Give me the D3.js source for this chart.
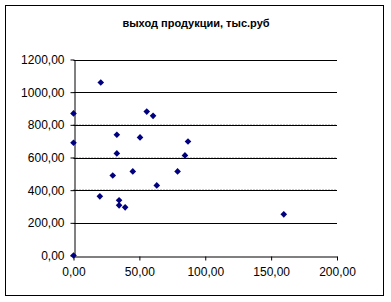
<html lang="ru">
<head>
    <meta charset="utf-8">
    <title>выход продукции</title>
    <style>
        body {
            margin: 0;
            background: white;
        }

        svg text {
            font-family: "Liberation Sans", Arial, sans-serif;
        }
    </style>
</head>
<body>
<svg id="chart" width="391" height="302"></svg>
<script src="https://d3js.org/d3.v7.min.js"></script>
<script>
    // values
    const xValues = [0, 0, 0, 20.7, 20, 29.8, 32.9, 32.9, 34.6, 34.6, 39.2, 45, 50.5, 55.6, 60.4, 63.2, 79, 84.6, 86.9, 159.6];
    const yValues = [0, 690, 870, 1059, 362, 490, 739, 625, 338, 307, 295, 515, 723, 881, 855, 429, 515, 613, 698, 252];
    const xTicks = [0, 50, 100, 150, 200];
    const yTicks = [0, 200, 400, 600, 800, 1000, 1200];
    const dottedLines = [400, 600, 800];
    const title = "выход продукции, тыс.руб";

    const svg = d3.select("#chart");
    const fmt = d => d3.format(".2f")(d).replace(".", ",");

    const x = d3.scaleLinear().domain([0, 200]).range([73.5, 337]);
    const y = d3.scaleLinear().domain([0, 1200]).range([255.5, 59.5]);

    svg.append("rect")
        .attr("x", 5.5).attr("y", 5.5)
        .attr("width", 378).attr("height", 290)
        .attr("fill", "white").attr("stroke", "black");

    svg.append("text")
        .attr("x", 196).attr("y", 27)
        .attr("text-anchor", "middle")
        .style("font-size", "11px").style("font-weight", "bold")
        .text(title);

    // gridlines (some have a faint dotted row above, like the screenshot)
    svg.append("g").selectAll("line")
        .data(dottedLines)
        .join("line")
        .attr("x1", x(0)).attr("x2", x(200))
        .attr("y1", d => Math.round(y(d)) - 0.5).attr("y2", d => Math.round(y(d)) - 0.5)
        .attr("stroke", "#999")
        .attr("stroke-dasharray", "1,2");

    svg.append("g").selectAll("line")
        .data(yTicks.filter(d => d > 0))
        .join("line")
        .attr("x1", x(0)).attr("x2", x(200))
        .attr("y1", d => Math.round(y(d)) + 0.5).attr("y2", d => Math.round(y(d)) + 0.5)
        .attr("stroke", "black");

    const xAxis = svg.append("g")
        .attr("transform", `translate(0,${Math.round(y(0)) + 0.5})`)
        .call(d3.axisBottom(x).tickValues(xTicks).tickFormat(fmt).tickSizeInner(4).tickSizeOuter(0).tickPadding(7));

    const yAxis = svg.append("g")
        .attr("transform", `translate(${Math.round(x(0)) + 0.5},0)`)
        .call(d3.axisLeft(y).tickValues(yTicks).tickFormat(fmt).tickSizeInner(4).tickSizeOuter(0).tickPadding(6));

    [xAxis, yAxis].forEach(a => {
        a.select(".domain").attr("stroke", "black");
        a.selectAll("line").attr("stroke", "black");
        a.selectAll("text").style("font-size", "12px").attr("fill", "black")
            .style("font-family", "'Liberation Sans', Arial, sans-serif");
    });

    const diamond = d3.symbol().type(d3.symbolSquare).size(22);

    svg.append("g").selectAll("path")
        .data(xValues.map((v, i) => [v, yValues[i]]))
        .join("path")
        .attr("d", diamond)
        .attr("transform", d => `translate(${x(d[0])},${y(d[1])}) rotate(45)`)
        .attr("fill", "#000080");
</script>
</body>
</html>
